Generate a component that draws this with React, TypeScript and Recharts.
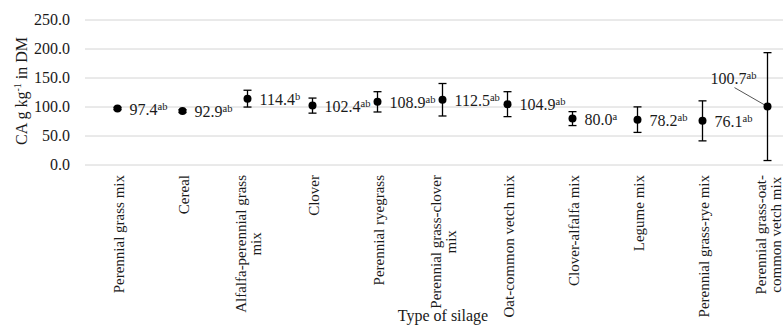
import { ComposedChart, Line, XAxis, YAxis, CartesianGrid, ErrorBar } from "recharts";

const CATEGORIES = [
  "Perennial grass mix",
  "Cereal",
  "Alfalfa-perennial grass\nmix",
  "Clover",
  "Perennial ryegrass",
  "Perennial grass-clover\nmix",
  "Oat-common vetch mix",
  "Clover-alfalfa mix",
  "Legume mix",
  "Perennial grass-rye mix",
  "Perennial grass-oat-\ncommon vetch mix",
];
const MEANS = [97.4, 92.9, 114.4, 102.4, 108.9, 112.5, 104.9, 80.0, 78.2, 76.1, 100.7];
const ERRORS = [2, 2.5, 14.5, 13, 17.5, 28, 21.5, 12, 22, 34.5, 93];
const LETTERS = ["ab", "ab", "b", "ab", "ab", "ab", "ab", "a", "ab", "ab", "ab"];
const Y_TICKS = [0, 50, 100, 150, 200, 250];

const FONT = "'Liberation Serif', 'Times New Roman', serif";
const TXT = "#1a1a1a";

const data = CATEGORIES.map((name, i) => ({
  name,
  value: MEANS[i],
  err: ERRORS[i],
  letter: LETTERS[i],
}));

let ctx: CanvasRenderingContext2D | null = null;
function measure(s: string, size: number) {
  if (!ctx) ctx = document.createElement("canvas").getContext("2d");
  if (!ctx) return s.length * size * 0.45;
  ctx.font = `${size}px 'Liberation Serif'`;
  return ctx.measureText(s).width;
}

function XTick(props: any) {
  const { x, payload } = props;
  const lines = String(payload.value).split("\n");
  const size = 15;
  const lineH = 15;
  const top = 175;
  const maxW = Math.max(...lines.map((l) => measure(l, size)));
  const mid = top + maxW / 2;
  return (
    <g>
      {lines.map((l, i) => (
        <text
          key={i}
          transform={`translate(${x + 1 + (i - (lines.length - 1) / 2) * lineH},${mid}) rotate(-90)`}
          textAnchor="middle"
          dominantBaseline="central"
          fontFamily={FONT}
          fontSize={size}
          fill={TXT}
        >
          {l}
        </text>
      ))}
    </g>
  );
}

function YTick(props: any) {
  const { y, payload } = props;
  return (
    <text x={70} y={y + 5} textAnchor="end" fontFamily={FONT} fontSize={16} fill={TXT}>
      {Number(payload.value).toFixed(1)}
    </text>
  );
}

function Dot(props: any) {
  const { cx, cy, index, payload } = props;
  const last = index === CATEGORIES.length - 1;
  const tx = last ? cx - 57 : cx + 12;
  const ty = last ? cy - 23 : cy + 6;
  return (
    <g key={index}>
      {last && <line x1={cx - 33} y1={cy - 19} x2={cx} y2={cy} stroke="#555" strokeWidth={1} />}
      <circle cx={cx} cy={cy} r={4} fill="#000" />
      <text x={tx} y={ty} fontFamily={FONT} fontSize={16} fill={TXT}>
        {payload.value.toFixed(1)}
        <tspan fontSize={10.5} dy={-5}>
          {payload.letter}
        </tspan>
      </text>
    </g>
  );
}

export default function App() {
  return (
    <div
      style={{
        position: "absolute",
        left: 0,
        top: 0,
        width: 783,
        height: 325,
        overflow: "hidden",
        background: "#fff",
        fontFamily: FONT,
      }}
    >
      <ComposedChart width={800} height={325} data={data} margin={{ top: 20, right: 0, left: 0, bottom: 0 }}>
        <CartesianGrid vertical={false} stroke="#d4d4d4" />
        <XAxis
          dataKey="name"
          scale="band"
          height={160}
          interval={0}
          axisLine={false}
          tickLine={false}
          tick={<XTick />}
        />
        <YAxis
          width={85}
          domain={[0, 250]}
          ticks={Y_TICKS}
          axisLine={false}
          tickLine={false}
          tick={<YTick />}
        />
        <Line dataKey="value" stroke="none" dot={<Dot />} activeDot={false} isAnimationActive={false}>
          <ErrorBar dataKey="err" direction="y" width={4} stroke="#000" strokeWidth={1.3} />
        </Line>
        <text x={443} y={321} textAnchor="middle" fontFamily={FONT} fontSize={16} fill={TXT}>
          Type of silage
        </text>
        <text transform="translate(27,91) rotate(-90)" textAnchor="middle" fontFamily={FONT} fontSize={16} fill={TXT}>
          CA g kg
          <tspan fontSize={10} dy={-6}>
            -1
          </tspan>
          <tspan dy={6}> in DM</tspan>
        </text>
      </ComposedChart>
    </div>
  );
}
